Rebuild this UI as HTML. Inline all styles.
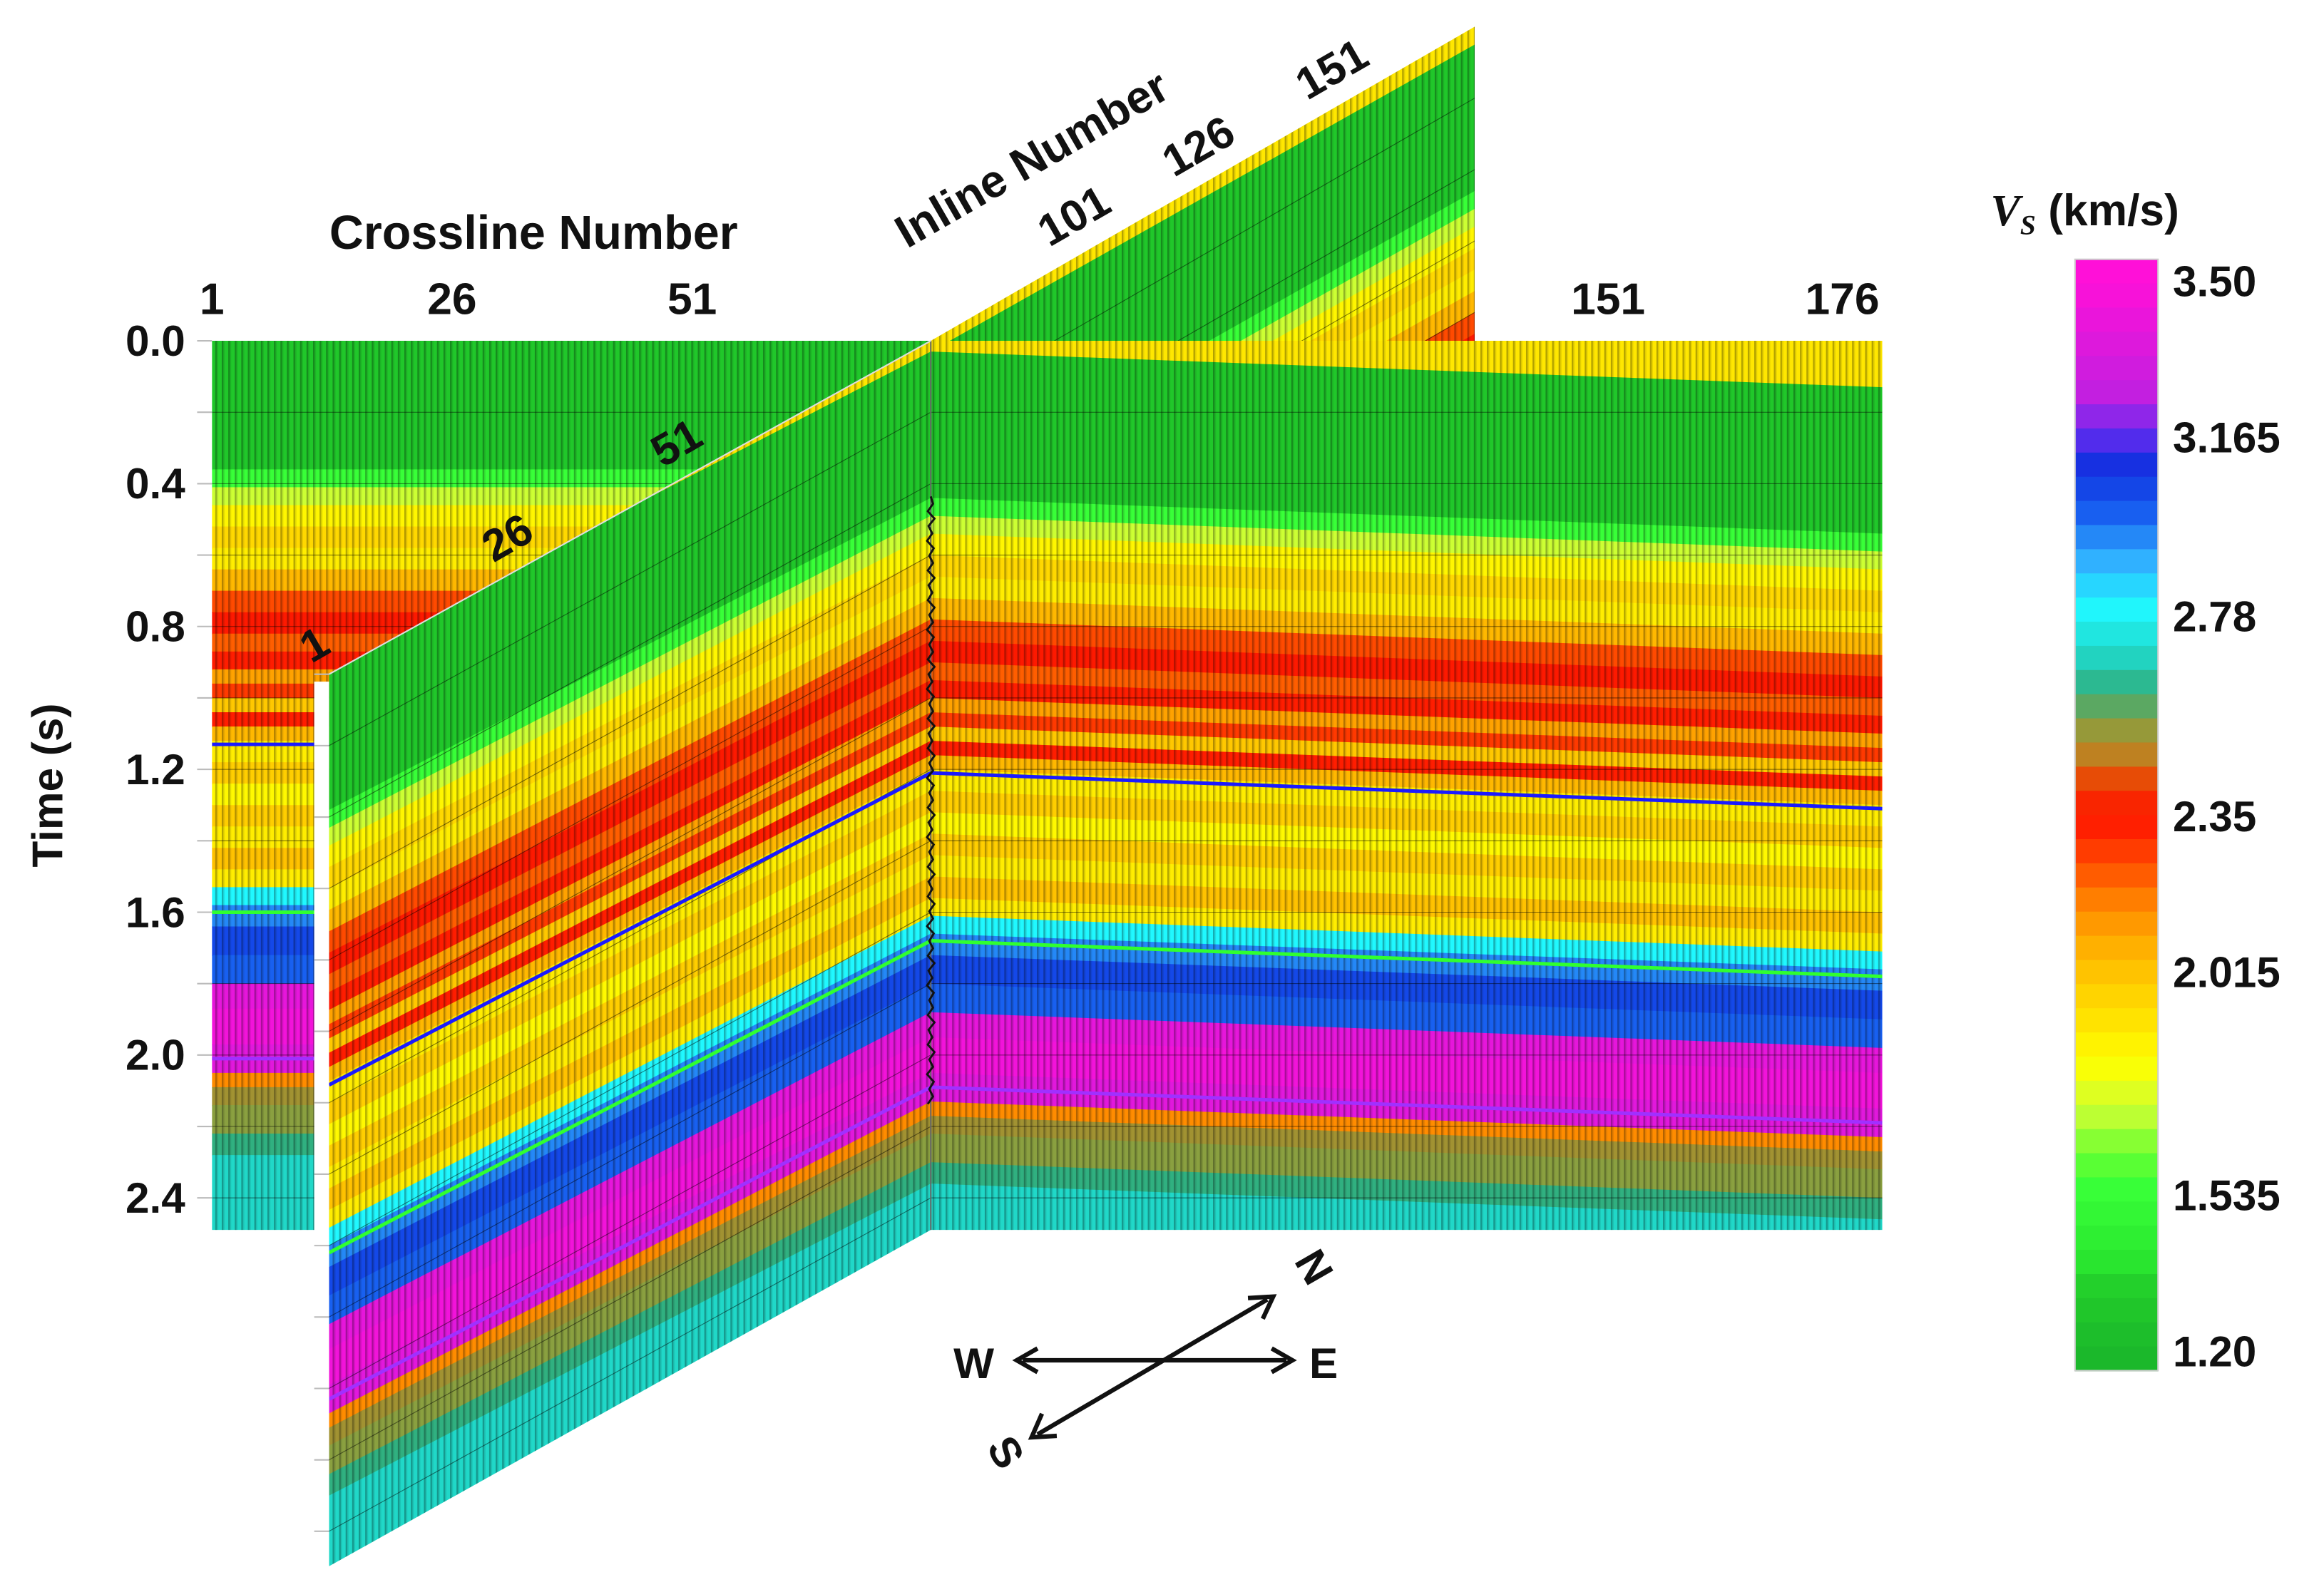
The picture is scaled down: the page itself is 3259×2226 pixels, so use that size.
<!DOCTYPE html>
<html><head><meta charset="utf-8">
<style>
html,body{margin:0;padding:0;background:#fff;overflow:hidden;width:3259px;height:2226px;}
svg{display:block;}
text{font-family:"Liberation Sans",Arial,sans-serif;font-weight:bold;fill:#111;}
</style></head>
<body>
<svg id="chart" xmlns="http://www.w3.org/2000/svg" width="3259" height="2226" viewBox="0 0 1568 1071">
<defs>
<pattern id="traces" patternUnits="userSpaceOnUse" width="4.4" height="10">
<rect x="0" y="0" width="1.1" height="10" fill="#000" opacity="0.3"/>
<rect x="1.1" y="0" width="0.9" height="10" fill="#000" opacity="0.1"/>
</pattern>
<clipPath id="clipBack"><polygon points="143,230 628,230 628,830 143,830"/></clipPath>
<clipPath id="clipRight"><polygon points="628,230 1270,230 1270,830 628,830"/></clipPath>
<clipPath id="clipObl"><polygon points="222,455 628,230 628,830 222,1057"/></clipPath>
<clipPath id="clipUp"><polygon points="628,230 995,18 995,230"/></clipPath>
</defs>
<g id="panels"></g>
<g id="overlay"></g>

<g>
<text x="360" y="168" font-size="32" text-anchor="middle">Crossline Number</text>
<text x="143" y="212" font-size="30" text-anchor="middle">1</text>
<text x="305" y="212" font-size="30" text-anchor="middle">26</text>
<text x="467" y="212" font-size="30" text-anchor="middle">51</text>
<text x="1085" y="212" font-size="30" text-anchor="middle">151</text>
<text x="1243" y="212" font-size="30" text-anchor="middle">176</text>
</g>
<g>
<text transform="translate(612,168) rotate(-30)" font-size="31">Inline Number</text>
<text transform="translate(708,167) rotate(-30)" font-size="30">101</text>
<text transform="translate(792,120) rotate(-30)" font-size="30">126</text>
<text transform="translate(882,68) rotate(-30)" font-size="30">151</text>
<text transform="translate(447,316) rotate(-30)" font-size="30">51</text>
<text transform="translate(333,380) rotate(-30)" font-size="30">26</text>
<text transform="translate(210,448) rotate(-30)" font-size="30">1</text>
</g>
<g id="timeaxis">
<text transform="translate(42,530) rotate(-90)" font-size="29" text-anchor="middle">Time (s)</text>
</g>

<g id="colorbar">
<text x="1343" y="152" font-size="30"><tspan font-family="Liberation Serif" font-style="italic">V</tspan><tspan font-family="Liberation Serif" font-style="italic" font-size="19" dy="6">S</tspan><tspan dy="-6"> (km/s)</tspan></text>
</g>

<g stroke="#111" stroke-width="3" fill="none">
<line x1="690" y1="918" x2="868" y2="918"/>
<polyline points="700,910 686,918 700,926"/>
<polyline points="858,910 872,918 858,926"/>
<line x1="700" y1="968" x2="855" y2="877"/>
<polyline points="703,954 696,970 713,969"/>
<polyline points="842,876 859,875 852,890"/>
</g>
<text x="657" y="930" font-size="29" text-anchor="middle">W</text>
<text x="893" y="930" font-size="29" text-anchor="middle">E</text>
<text transform="translate(878,860) rotate(60)" font-size="29" text-anchor="middle">N</text>
<text transform="translate(670,985) rotate(60)" font-size="29" text-anchor="middle">S</text>
</svg>
<script>
// velocity profile (layer top times in s, Vs in km/s)
const layerTops = [-0.6,0.03,0.44,0.49,0.54,0.60,0.66,0.72,0.78,0.84,0.90,0.95,1.00,1.04,1.08,1.12,1.16,1.20,1.26,1.32,1.38,1.44,1.50,1.56,1.61,1.66,1.72,1.80,1.88,1.95,2.05,2.13,2.17,2.22,2.30,2.36];
const layerVs   = [1.90,1.30,1.55,1.72,1.85,1.95,1.88,2.05,2.25,2.36,2.22,2.33,2.10,2.28,2.00,2.33,2.05,1.88,1.98,1.84,1.98,1.88,2.02,1.88,2.80,2.95,3.05,3.00,3.40,3.45,3.38,2.15,2.52,2.55,2.62,2.70];
// horizons (time at right-panel left edge)
const horizonTimes = [1.21, 1.68, 2.09];
const horizonColors = ['#1a1aff','#30ff30','#a030ff'];
// colormap
const cmV = [1.2,1.33,1.4,1.55,1.62,1.72,1.82,1.95,2.05,2.15,2.25,2.35,2.42,2.48,2.55,2.62,2.70,2.80,2.90,3.00,3.10,3.18,3.25,3.5];
const cmC = ['#1bb82b','#22cc2a','#2ae830','#38ff38','#66ff33','#ccff33','#ffff00','#ffd800','#ffb800','#ff8c00','#ff4a00','#ff1200','#f04000','#c08020','#8aa040','#30b080','#20d8c8','#20f8ff','#30b0ff','#1860f0','#1030e0','#6a2af0','#c020e0','#ff10d8'];
// colorbar
const cbTicks = [3.50,3.165,2.78,2.35,2.015,1.535,1.20];
const cbLabels = ['3.50','3.165','2.78','2.35','2.015','1.535','1.20'];
const timeTicks = [0.0,0.4,0.8,1.2,1.6,2.0,2.4];

(function(){
const NS='http://www.w3.org/2000/svg';
function hex(c){return [1,3,5].map(i=>parseInt(c.substr(i,2),16));}
function cmap(v){
  if(v<=cmV[0])return cmC[0];
  for(let i=1;i<cmV.length;i++){ if(v<=cmV[i]){const f=(v-cmV[i-1])/(cmV[i]-cmV[i-1]);const a=hex(cmC[i-1]),b=hex(cmC[i]);return 'rgb('+a.map((x,k)=>Math.round(x+(b[k]-x)*f)).join(',')+')';}}
  return cmC[cmC.length-1];
}
function el(tag,attrs,parent){const e=document.createElementNS(NS,tag);for(const k in attrs)e.setAttribute(k,attrs[k]);parent.appendChild(e);return e;}
const PX=241;
const panels=document.getElementById('panels');
const overlay=document.getElementById('overlay');

function drawPanel(name,clip,x0,x1,ty0,ty1,s0,s1,horiz){
  const g=el('g',{'clip-path':'url(#'+clip+')'},panels);
  
  
  const y=(x,t)=> (x===x0?ty0:ty1) + (t + (x===x0?s0:s1))*PX;
  for(let i=0;i<layerTops.length;i++){
    const t0=layerTops[i], t1=(i+1<layerTops.length?layerTops[i+1]:4);
    const p=el('polygon',{points:[x0,y(x0,t0),x1,y(x1,t0),x1,y(x1,t1)+0.6,x0,y(x0,t1)+0.6].join(' '),fill:cmap(layerVs[i])},g);
    
    
  }
  el('rect',{x:Math.min(x0,x1),y:0,width:Math.abs(x1-x0),height:1100,fill:'url(#traces)'},g);
  for(let t=0.2;t<2.5;t+=0.2){
    el('line',{x1:x0,y1:ty0+t*PX,x2:x1,y2:ty1+t*PX,stroke:'#000','stroke-width':0.5,opacity:0.5},g);
  }
  if(horiz){
    horizonTimes.forEach((ht,k)=>{
      const l=el('line',{x1:x0,y1:y(x0,ht),x2:x1,y2:y(x1,ht),stroke:horizonColors[k],'stroke-width':2.4},g);
      
      
    });
  }
}
drawPanel('crossline-back-panel','clipBack',143,628,230,230,-0.08,-0.08,true);
drawPanel('inline-upper-panel','clipUp',628,995,230,18,0,0.02,false);
drawPanel('crossline-right-panel','clipRight',628,1270,230,230,0,0.10,true);
el('rect',{x:212,y:460,width:10,height:372,fill:'#fff'},panels);
drawPanel('inline-oblique-panel','clipObl',222,628,455,230,-0.06,0,true);
el('line',{x1:628,y1:230,x2:628,y2:830,stroke:'#666','stroke-width':1},overlay);
el('line',{x1:222,y1:455,x2:628,y2:230,stroke:'#ddd','stroke-width':1},overlay);
let d='M628,335';
const jit=[1.5,-2,2.5,-1.5,1,-2.5,2,-1,1.5,-2,2.5,-1.5,1,-2,2.5,-1,1.5,-2.5,2,-1];
for(let yy=340,i=0;yy<=745;yy+=5,i++){d+=' L'+(628+jit[i%jit.length])+','+yy;}
const wl=el('path',{d:d,stroke:'#111','stroke-width':1.4,fill:'none'},overlay);



const ta=document.getElementById('timeaxis');
timeTicks.forEach(t=>{
  const yy=230+t*PX;
  const tx=el('text',{x:125,y:yy+10,'font-size':29,'text-anchor':'end'},ta);
  tx.textContent=t.toFixed(1);
  
  
});
for(let t=0;t<=2.5;t+=0.2){ el('line',{x1:133,y1:230+t*PX,x2:143,y2:230+t*PX,stroke:'#bbb','stroke-width':1},ta); }
for(let t=0;t<=2.5;t+=0.2){ el('line',{x1:212,y1:455+t*PX,x2:222,y2:455+t*PX,stroke:'#bbb','stroke-width':1},ta); }

const cb=document.getElementById('colorbar');
const cbY=v=>912-(v-1.2)/(3.5-1.2)*722;
const steps=46, cbTop=175, cbBot=925;
for(let i=0;i<steps;i++){
  const ya=cbTop+(cbBot-cbTop)*i/steps, yb=cbTop+(cbBot-cbTop)*(i+1)/steps;
  const v=1.2+(3.5-1.2)*(912-(ya+yb)/2)/722;
  const r=el('rect',{x:1400,y:ya,width:56,height:yb-ya+0.5,fill:cmap(Math.max(1.2,Math.min(3.5,v)))},cb);
  
  
}
el('rect',{x:1400,y:cbTop,width:56,height:cbBot-cbTop,fill:'none',stroke:'#ccc','stroke-width':1},cb);
cbTicks.forEach((v,i)=>{
  const tx=el('text',{x:1466,y:cbY(v)+10,'font-size':29},cb);
  tx.textContent=cbLabels[i];
  
  
});
})();
</script>
</body></html>
